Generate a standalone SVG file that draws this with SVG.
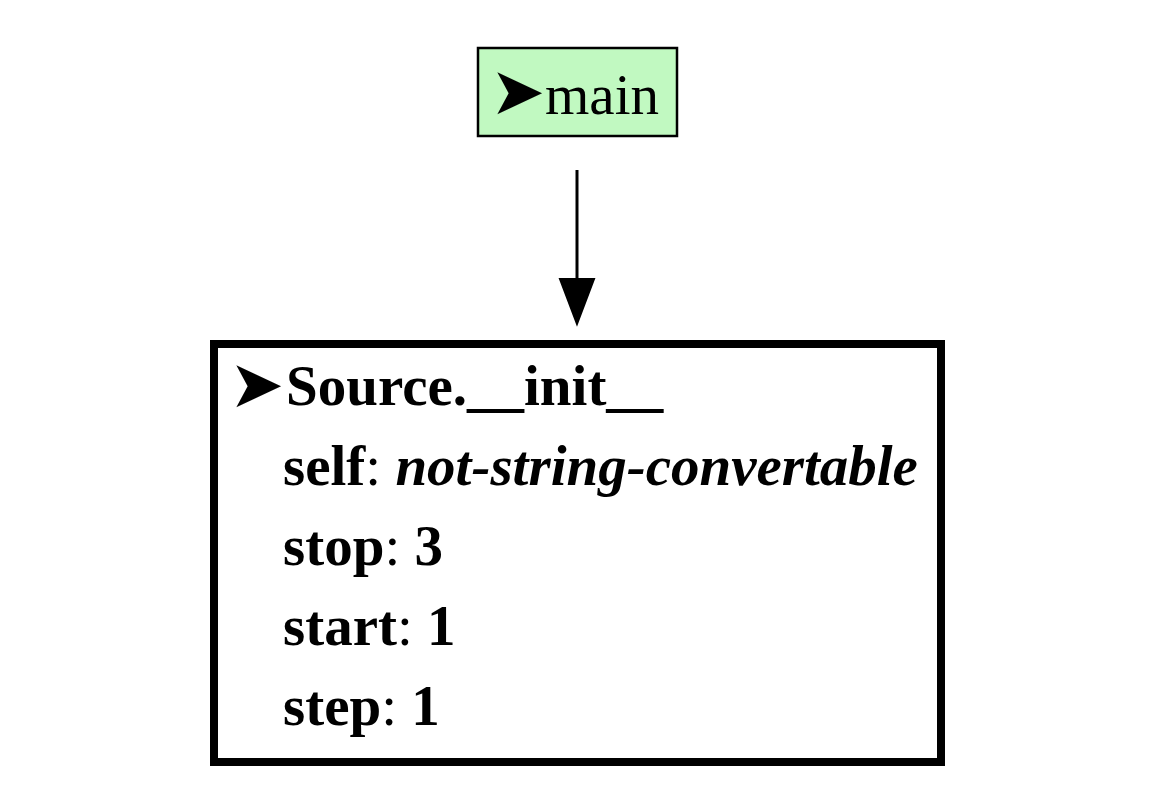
<svg xmlns="http://www.w3.org/2000/svg" width="1155" height="801" viewBox="0 0 1155 801">
<style>
text{font-family:"Liberation Serif","Times New Roman",serif;font-size:57px;fill:#000}
.sym{font-family:"DejaVu Sans",sans-serif;font-size:66px}
.b{font-weight:bold}
.bi{font-weight:bold;font-style:italic}
.edge{stroke:#000;stroke-width:3;fill:none}
.head{fill:#000;stroke:#000;stroke-width:2}
</style>
<rect width="1155" height="801" fill="#fff"/>
<g id="edges">
<path class="edge" d="M577,170 L577,282"/>
<polygon class="head" points="560,279 594,279 577,324"/>
</g>
<g id="node-main">
<rect x="478" y="48" width="199" height="88" fill="#c1f9c1" stroke="#000" stroke-width="2.5"/>
<text y="114"><tspan class="sym" x="490">➤</tspan><tspan x="545">main</tspan></text>
</g>
<g id="node-init">
<rect x="214" y="344" width="727" height="418" fill="#fff" stroke="#000" stroke-width="8"/>
<text y="407"><tspan class="sym" x="229">➤</tspan><tspan class="b" x="286" y="405">Source.__init__</tspan></text>
<text x="283" y="485"><tspan class="b">self</tspan>: <tspan class="bi">not-string-convertable</tspan></text>
<text x="283" y="565"><tspan class="b">stop</tspan>: <tspan class="b">3</tspan></text>
<text x="283" y="645"><tspan class="b">start</tspan>: <tspan class="b">1</tspan></text>
<text x="283" y="725"><tspan class="b">step</tspan>: <tspan class="b">1</tspan></text>
</g>
</svg>
